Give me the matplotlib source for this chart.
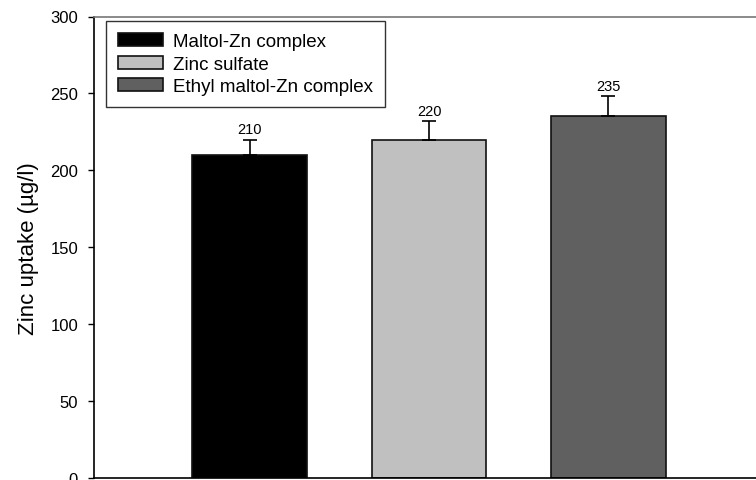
import matplotlib.pyplot as plt

plt.rcParams['font.family'] = ['Liberation Sans', 'DejaVu Sans']

# zinc uptake per treatment
treatments = ['Maltol-Zn complex', 'Zinc sulfate', 'Ethyl maltol-Zn complex']
uptake = [210, 220, 235]
uptake_err = [10, 12, 13]
bar_colors = ['#000000', '#c0c0c0', '#606060']
positions = [1, 2, 3]

fig = plt.figure(figsize=(7.56, 4.81), dpi=100)
ax = fig.add_axes([94 / 756, 2 / 481, 670 / 756, 461.5 / 481])

for x, val, err, col, name in zip(positions, uptake, uptake_err, bar_colors, treatments):
    ax.bar(x, val, width=0.64, color=col, edgecolor='#111111', linewidth=1.2,
           label=name, zorder=2)
    ax.errorbar(x, val, yerr=[[0], [err]], fmt='none', ecolor='black',
                elinewidth=1.2, capsize=4.7, capthick=1.2, zorder=3)
    ax.annotate(str(val), (x, val + err), xytext=(0, 4.7), textcoords='offset points',
                ha='center', va='baseline', fontsize=10.5)

ax.set_xlim(0.131, 3.869)
ax.set_ylim(0, 300)
ax.set_yticks([0, 50, 100, 150, 200, 250, 300])
ax.set_xticks([])
ax.tick_params(axis='y', direction='out', length=4.5, width=1, labelsize=12, pad=7)
ax.set_ylabel('Zinc uptake (\u00b5g/l)', fontsize=16, labelpad=8)

for side in ['left', 'bottom']:
    ax.spines[side].set_color('black')
    ax.spines[side].set_linewidth(1.2)
ax.spines['top'].set_color('#777777')
ax.spines['top'].set_linewidth(1.2)
ax.spines['right'].set_visible(False)

leg = ax.legend(loc='upper left', bbox_to_anchor=(0.018, 0.990), borderaxespad=0,
                fontsize=13.5, frameon=True, fancybox=False, edgecolor='black',
                handlelength=2.4, handleheight=0.7, handletextpad=0.5,
                labelspacing=0.28, borderpad=0.65)
leg.get_frame().set_linewidth(1.0)

fig.savefig('out.png', dpi=100)
